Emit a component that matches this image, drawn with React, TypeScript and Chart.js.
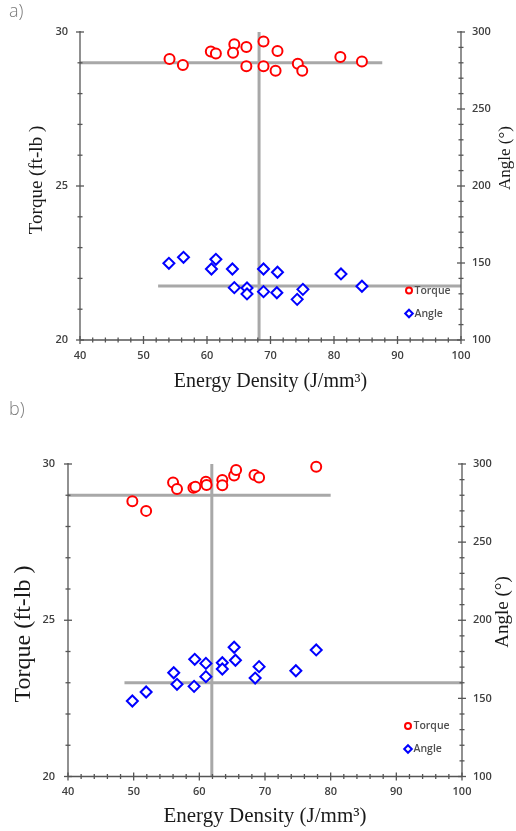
import React, { useEffect, useRef } from 'react';
import { Chart, registerables } from 'chart.js';

Chart.register(...registerables);

// ---------- Data: panel a ----------
const A_TORQUE_ENERGY = [54.1, 56.2, 60.6, 61.4, 64.3, 64.1, 66.2, 66.2, 68.9, 68.9, 71.1, 70.8, 74.3, 75.0, 81.0, 84.4];
const A_TORQUE = [29.12, 28.93, 29.37, 29.3, 29.6, 29.33, 29.51, 28.89, 29.69, 28.89, 29.38, 28.74, 28.97, 28.74, 29.19, 29.04];
const A_ANGLE_ENERGY = [54.0, 56.3, 60.7, 61.4, 64.0, 64.3, 66.3, 66.3, 68.9, 68.9, 71.1, 71.0, 75.1, 74.2, 81.1, 84.4];
const A_ANGLE = [149.8, 153.7, 146.1, 152.4, 146.1, 134.0, 133.8, 129.9, 146.1, 131.4, 144.0, 130.7, 132.9, 126.4, 142.9, 134.9];
const A_TORQUE_REF_X = [40, 87.6];
const A_TORQUE_REF_Y = [29, 29];
const A_ANGLE_REF_X = [52.3, 100];
const A_ANGLE_REF_Y = [135, 135];
const A_VERT_X = [68.2, 68.2];
const A_VERT_Y = [20, 30];

// ---------- Data: panel b ----------
const B_TORQUE_ENERGY = [49.8, 51.9, 56.0, 56.6, 59.1, 59.4, 61.0, 61.1, 63.5, 63.5, 65.3, 65.6, 68.4, 69.1, 77.8];
const B_TORQUE = [28.81, 28.5, 29.41, 29.2, 29.24, 29.27, 29.43, 29.33, 29.49, 29.32, 29.63, 29.81, 29.65, 29.57, 29.91];
const B_ANGLE_ENERGY = [49.8, 51.9, 56.1, 56.6, 59.2, 59.3, 61.0, 61.0, 63.5, 63.5, 65.3, 65.5, 68.5, 69.1, 74.7, 77.8];
const B_ANGLE = [148.3, 154.1, 166.4, 159.0, 157.7, 175.0, 172.4, 163.9, 172.8, 168.8, 182.7, 174.4, 163.0, 170.3, 167.7, 181.0];
const B_TORQUE_REF_X = [40, 80];
const B_TORQUE_REF_Y = [29, 29];
const B_ANGLE_REF_X = [48.6, 100];
const B_ANGLE_REF_Y = [160, 160];
const B_VERT_X = [61.9, 61.9];
const B_VERT_Y = [20, 30];

// ---------- Axis ticks ----------
const X_TICKS = [40, 50, 60, 70, 80, 90, 100];
const LEFT_TICKS = [20, 25, 30];
const RIGHT_TICKS = [100, 150, 200, 250, 300];
const X_MINOR_STEP = 2;
const LEFT_MINOR_STEP = 1;
const RIGHT_MINOR_STEP = 10;

const TITLE_X = 'Energy Density (J/mm\u00B3)';
const TITLE_LEFT = 'Torque (ft-lb )';
const TITLE_RIGHT = 'Angle (\u00B0)';
const LEGEND_LABELS = ['Torque', 'Angle'];

const AXIS_COLOR = '#555555';
const TICK_COLOR = '#404040';
const REF_COLOR = '#a8a8a8';
const TITLE_COLOR = '#1a1a1a';
const TICK_FONT = { family: '"Open Sans", sans-serif', size: 11, weight: '600' as const };

const zip = (xs: number[], ys: number[]) => xs.map((x, i) => ({ x, y: ys[i] }));

type PanelCfg = {
  top: number;
  height: number;
  padTop: number;
  leftW: number;
  rightW: number;
  bottomH: number;
  leftPad: number;
  torqueE: number[]; torque: number[];
  angleE: number[]; angle: number[];
  tRefX: number[]; tRefY: number[];
  aRefX: number[]; aRefY: number[];
  vX: number[]; vY: number[];
  titleLeft: { x: number; y: number; size: number };
  titleRight: { x: number; y: number; size: number };
  titleX: { x: number; y: number; size: number };
  legend: { x: number; y1: number; y2: number };
};

const PANELS: PanelCfg[] = [
  {
    top: 0, height: 400, padTop: 32, leftW: 80, rightW: 55, bottomH: 60, leftPad: 12,
    torqueE: A_TORQUE_ENERGY, torque: A_TORQUE, angleE: A_ANGLE_ENERGY, angle: A_ANGLE,
    tRefX: A_TORQUE_REF_X, tRefY: A_TORQUE_REF_Y, aRefX: A_ANGLE_REF_X, aRefY: A_ANGLE_REF_Y,
    vX: A_VERT_X, vY: A_VERT_Y,
    titleLeft: { x: 37, y: 180, size: 19 },
    titleRight: { x: 506, y: 158, size: 17 },
    titleX: { x: 270.5, y: 382, size: 20 },
    legend: { x: 409, y1: 290.5, y2: 313.5 },
  },
  {
    top: 400, height: 431, padTop: 64, leftW: 68, rightW: 54, bottomH: 54.5, leftPad: 13,
    torqueE: B_TORQUE_ENERGY, torque: B_TORQUE, angleE: B_ANGLE_ENERGY, angle: B_ANGLE,
    tRefX: B_TORQUE_REF_X, tRefY: B_TORQUE_REF_Y, aRefX: B_ANGLE_REF_X, aRefY: B_ANGLE_REF_Y,
    vX: B_VERT_X, vY: B_VERT_Y,
    titleLeft: { x: 24, y: 634, size: 24 },
    titleRight: { x: 503, y: 612, size: 19 },
    titleX: { x: 265, y: 816, size: 21 },
    legend: { x: 408, y1: 726, y2: 749 },
  },
];

function decoPlugin(cfg: PanelCfg) {
  return {
    id: 'deco',
    afterDraw(chart: any) {
      const ctx: CanvasRenderingContext2D = chart.ctx;
      const { left, right, top, bottom } = chart.chartArea;
      const xs = chart.scales.x;
      const ys = chart.scales.y;
      const y2s = chart.scales.y2;
      const off = cfg.top;
      const seg = (x1: number, y1: number, x2: number, y2: number) => {
        ctx.beginPath();
        ctx.moveTo(x1, y1);
        ctx.lineTo(x2, y2);
        ctx.stroke();
      };
      ctx.save();
      ctx.strokeStyle = AXIS_COLOR;
      ctx.lineWidth = 1.3;
      seg(left, top - 1, left, bottom);
      seg(right, top - 1, right, bottom);
      seg(left, bottom, right, bottom);
      const xMin = X_TICKS[0], xMax = X_TICKS[X_TICKS.length - 1];
      for (let v = xMin; v <= xMax + 1e-6; v += X_MINOR_STEP) {
        const px = xs.getPixelForValue(v);
        const major = X_TICKS.includes(Math.round(v));
        const L = major ? 4 : 2.5;
        seg(px, bottom - L, px, bottom + L);
      }
      const lMin = LEFT_TICKS[0], lMax = LEFT_TICKS[LEFT_TICKS.length - 1];
      for (let v = lMin; v <= lMax + 1e-6; v += LEFT_MINOR_STEP) {
        const py = ys.getPixelForValue(v);
        const major = LEFT_TICKS.includes(Math.round(v));
        const L = major ? 4 : 2.5;
        seg(left - L, py, left + L, py);
      }
      const rMin = RIGHT_TICKS[0], rMax = RIGHT_TICKS[RIGHT_TICKS.length - 1];
      for (let v = rMin; v <= rMax + 1e-6; v += RIGHT_MINOR_STEP) {
        const py = y2s.getPixelForValue(v);
        const major = RIGHT_TICKS.includes(Math.round(v));
        const L = major ? 4 : 2.5;
        seg(right - L, py, right + L, py);
      }

      ctx.fillStyle = TITLE_COLOR;
      ctx.textAlign = 'center';
      ctx.textBaseline = 'middle';
      ctx.font = `${cfg.titleX.size}px "Liberation Serif", "Times New Roman", serif`;
      ctx.fillText(TITLE_X, cfg.titleX.x, cfg.titleX.y - off);

      ctx.save();
      ctx.translate(cfg.titleLeft.x, cfg.titleLeft.y - off);
      ctx.rotate(-Math.PI / 2);
      ctx.font = `${cfg.titleLeft.size}px "Liberation Serif", "Times New Roman", serif`;
      ctx.fillText(TITLE_LEFT, 0, 0);
      ctx.restore();

      ctx.save();
      ctx.translate(cfg.titleRight.x, cfg.titleRight.y - off);
      ctx.rotate(-Math.PI / 2);
      ctx.font = `${cfg.titleRight.size}px "Liberation Serif", "Times New Roman", serif`;
      ctx.fillText(TITLE_RIGHT, 0, 0);
      ctx.restore();

      const lx = cfg.legend.x;
      const ly1 = cfg.legend.y1 - off;
      const ly2 = cfg.legend.y2 - off;
      ctx.lineWidth = 2;
      ctx.fillStyle = '#ffffff';
      ctx.strokeStyle = '#ff0000';
      ctx.beginPath();
      ctx.arc(lx, ly1, 3, 0, Math.PI * 2);
      ctx.fill();
      ctx.stroke();
      ctx.strokeStyle = '#0000ff';
      ctx.beginPath();
      ctx.moveTo(lx, ly2 - 3.8);
      ctx.lineTo(lx + 3.8, ly2);
      ctx.lineTo(lx, ly2 + 3.8);
      ctx.lineTo(lx - 3.8, ly2);
      ctx.closePath();
      ctx.fill();
      ctx.stroke();
      ctx.fillStyle = '#505050';
      ctx.textAlign = 'left';
      ctx.textBaseline = 'middle';
      ctx.font = '600 10.5px "Open Sans", sans-serif';
      ctx.fillText(LEGEND_LABELS[0], lx + 5.5, ly1 + 0.5);
      ctx.fillText(LEGEND_LABELS[1], lx + 5.5, ly2 + 0.5);
      ctx.restore();
    },
  };
}

function Panel({ cfg }: { cfg: PanelCfg }) {
  const ref = useRef<HTMLCanvasElement>(null);
  useEffect(() => {
    const setTicks = (arr: number[]) => (scale: any) => {
      scale.ticks = arr.map((v) => ({ value: v }));
    };
    const chart = new Chart(ref.current as HTMLCanvasElement, {
      type: 'scatter',
      data: {
        datasets: [
          {
            label: 'Torque',
            data: zip(cfg.torqueE, cfg.torque),
            yAxisID: 'y',
            clip: false,
            pointStyle: 'circle',
            pointRadius: 5,
            pointBorderWidth: 2,
            pointBorderColor: '#ff0000',
            pointBackgroundColor: '#ffffff',
            borderColor: '#ff0000',
            backgroundColor: '#ffffff',
          },
          {
            label: 'Angle',
            data: zip(cfg.angleE, cfg.angle),
            yAxisID: 'y2',
            clip: false,
            pointStyle: 'rectRot',
            pointRadius: 5.5,
            pointBorderWidth: 2,
            pointBorderColor: '#0000ff',
            pointBackgroundColor: '#ffffff',
            borderColor: '#0000ff',
            backgroundColor: '#ffffff',
          },
          {
            label: 'torqueRef',
            data: zip(cfg.tRefX, cfg.tRefY),
            yAxisID: 'y',
            showLine: true,
            pointRadius: 0,
            borderColor: REF_COLOR,
            borderWidth: 3,
          },
          {
            label: 'angleRef',
            data: zip(cfg.aRefX, cfg.aRefY),
            yAxisID: 'y2',
            showLine: true,
            pointRadius: 0,
            borderColor: REF_COLOR,
            borderWidth: 3,
          },
          {
            label: 'energyRef',
            data: zip(cfg.vX, cfg.vY),
            yAxisID: 'y',
            showLine: true,
            pointRadius: 0,
            borderColor: REF_COLOR,
            borderWidth: 3,
          },
        ],
      },
      options: {
        responsive: false,
        animation: false,
        devicePixelRatio: 1,
        layout: { padding: { top: cfg.padTop, left: 0, right: 0, bottom: 0 } },
        plugins: { legend: { display: false }, tooltip: { enabled: false } },
        scales: {
          x: {
            type: 'linear',
            position: 'bottom',
            min: X_TICKS[0],
            max: X_TICKS[X_TICKS.length - 1],
            afterBuildTicks: setTicks(X_TICKS),
            afterFit: (s: any) => { s.height = cfg.bottomH; },
            grid: { display: false, drawTicks: false },
            border: { display: false },
            ticks: { padding: 9, font: TICK_FONT, color: TICK_COLOR, maxRotation: 0, autoSkip: false },
          },
          y: {
            type: 'linear',
            position: 'left',
            min: LEFT_TICKS[0],
            max: LEFT_TICKS[LEFT_TICKS.length - 1],
            afterBuildTicks: setTicks(LEFT_TICKS),
            afterFit: (s: any) => { s.width = cfg.leftW; },
            grid: { display: false, drawTicks: false },
            border: { display: false },
            ticks: { padding: cfg.leftPad, font: TICK_FONT, color: TICK_COLOR, autoSkip: false },
          },
          y2: {
            type: 'linear',
            position: 'right',
            min: RIGHT_TICKS[0],
            max: RIGHT_TICKS[RIGHT_TICKS.length - 1],
            afterBuildTicks: setTicks(RIGHT_TICKS),
            afterFit: (s: any) => { s.width = cfg.rightW; },
            grid: { display: false, drawTicks: false },
            border: { display: false },
            ticks: { padding: 11, font: TICK_FONT, color: TICK_COLOR, autoSkip: false },
          },
        },
      } as any,
      plugins: [decoPlugin(cfg)],
    });
    return () => chart.destroy();
  }, [cfg]);
  return (
    <canvas
      ref={ref}
      width={516}
      height={cfg.height}
      style={{ position: 'absolute', left: 0, top: cfg.top, width: 516, height: cfg.height, display: 'block' }}
    />
  );
}

const panelLabelStyle: React.CSSProperties = {
  position: 'absolute',
  left: 9,
  fontFamily: '"Open Sans", sans-serif',
  fontWeight: 300,
  fontSize: 18,
  lineHeight: '18px',
  color: '#7a7a7a',
  zIndex: 2,
};

export default function App() {
  return (
    <div style={{ position: 'absolute', left: 0, top: 0, width: 516, height: 831, background: '#ffffff', overflow: 'hidden' }}>
      <Panel cfg={PANELS[0]} />
      <Panel cfg={PANELS[1]} />
      <div style={{ ...panelLabelStyle, top: 1 }}>a)</div>
      <div style={{ ...panelLabelStyle, top: 399 }}>b)</div>
    </div>
  );
}
